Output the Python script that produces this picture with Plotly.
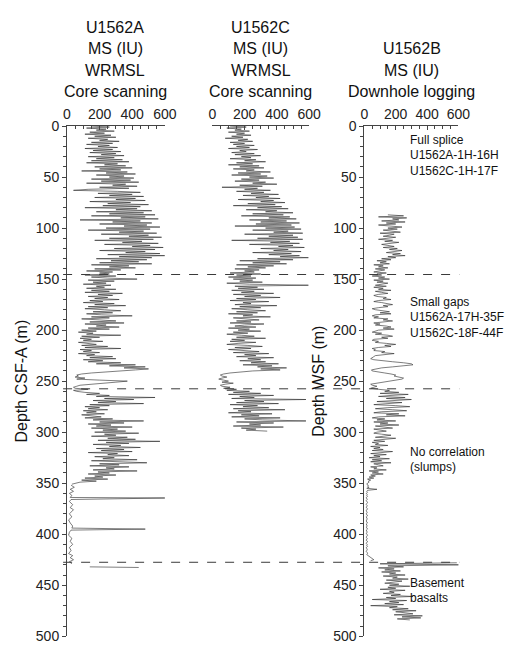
import plotly.graph_objects as go

W, H = 513, 654

# ---- Hole U1562A, WRMSL magnetic susceptibility (IU), 1 m samples from 0 m ----
A_TOP, A_STEP = 0.0, 1.0
A_MS = [
    150, 260, 120, 240, 180, 290, 140, 230, 110, 270,
    170, 300, 130, 250, 200, 320, 150, 280, 120, 260,
    190, 310, 110, 280, 160, 330, 140, 300, 210, 350,
    130, 290, 180, 340, 150, 380, 120, 310, 230, 360,
    170, 400, 200, 330, 90, 370, 240, 420, 180, 350,
    260, 410, 150, 390, 210, 440, 120, 360, 280, 430,
    200, 380, 130, 40, 310, 450, 190, 400, 260, 470,
    170, 420, 300, 480, 140, 390, 250, 500, 220, 450,
    110, 430, 300, 520, 180, 470, 260, 540, 150, 480,
    330, 560, 80, 450, 280, 520, 200, 490, 350, 570,
    240, 510, 130, 470, 320, 550, 210, 500, 380, 580,
    260, 530, 170, 460, 340, 560, 230, 510, 400, 590,
    290, 540, 200, 480, 360, 570, 250, 600, 320, 520,
    180, 490, 270, 440, 200, 520, 150, 380, 260, 420,
    170, 330, 120, 280, 200, 260, 110, 300, 150, 250,
    430, 130, 290, 160, 240, 100, 270, 180, 230, 120,
    300, 150, 260, 110, 340, 190, 280, 130, 250, 170,
    320, 140, 220, 100, 290, 170, 360, 130, 250, 110,
    230, 330, 160, 280, 120, 210, 400, 150, 260, 90,
    200, 300, 140, 350, 110, 240, 180, 320, 130, 260,
    90, 180, 70, 160, 120, 330, 90, 200, 80, 150,
    100, 220, 70, 140, 180, 90, 250, 110, 330, 80,
    150, 100, 200, 70, 170, 120, 280, 140, 300, 100,
    220, 130, 330, 180, 420, 260, 480, 350, 500, 420,
    310, 200, 150, 90, 60, 70, 50, 110, 60, 200,
    370, 300, 230, 130, 80, 60, 40, 50, 130, 40,
    60, 110, 200, 120, 260, 180, 540, 230, 410, 160,
    300, 190, 470, 140, 260, 110, 200, 130, 250, 100,
    180, 120, 230, 90, 150, 210, 110, 280, 160, 470,
    200, 350, 130, 270, 180, 400, 150, 310, 220, 360,
    170, 440, 230, 300, 150, 370, 250, 420, 190, 570,
    240, 380, 160, 330, 260, 450, 180, 350, 210, 400,
    130, 310, 250, 380, 170, 290, 220, 430, 150, 340,
    490, 200, 320, 140, 380, 240, 290, 160, 430, 190,
    260, 130, 300, 170, 220, 110, 250, 90, 180, 80,
    60, 30,
]
# deeper, sparse part of U1562A
A_DEEP_DEPTH = [352, 354, 356, 358, 360, 362, 364, 364.5, 366, 368, 371, 374, 376, 378,
                380, 383, 386, 389, 392, 394, 395, 396, 398, 401, 404, 407, 410, 413,
                416, 419, 421, 423, 425, 427, 429]
A_DEEP_MS = [25, 45, 20, 40, 15, 30, 20, 610, 25, 15, 35, 20, 40, 25,
             15, 30, 10, 20, 35, 30, 480, 25, 15, 10, 30, 20, 35, 15,
             25, 10, 35, 20, 40, 15, 30]
A_PIECE_DEPTH = [432.0, 432.6]
A_PIECE_MS = [140, 440]

# ---- Hole U1562C, WRMSL magnetic susceptibility (IU), 1 m samples from 0 m ----
C_TOP, C_STEP = 0.0, 1.0
C_MS = [
    110, 210, 90, 180, 140, 230, 100, 200, 150, 240,
    120, 190, 80, 220, 160, 250, 110, 200, 130, 260,
    150, 230, 100, 280, 170, 210, 120, 260, 140, 300,
    180, 240, 110, 270, 200, 330, 150, 250, 100, 290,
    170, 320, 130, 260, 210, 360, 160, 300, 120, 340,
    230, 380, 180, 290, 140, 330, 250, 400, 170, 310,
    60, 280, 200, 360, 150, 320, 240, 410, 190, 350,
    270, 420, 160, 380, 300, 450, 220, 390, 130, 430,
    280, 470, 210, 400, 330, 500, 250, 440, 180, 480,
    350, 520, 230, 460, 300, 540, 270, 490, 140, 510,
    330, 550, 250, 470, 380, 560, 200, 500, 350, 530,
    280, 560, 120, 480, 360, 540, 230, 500, 410, 570,
    300, 470, 380, 550, 250, 490, 350, 540, 420, 595,
    280, 500, 170, 420, 250, 460, 150, 380, 220, 330,
    140, 290, 200, 260, 110, 300, 150, 240, 100, 270,
    130, 250, 170, 310, 90, 230, 595, 140, 280, 160,
    320, 120, 260, 180, 380, 130, 300, 200, 420, 150,
    270, 110, 350, 190, 240, 140, 400, 170, 300, 120,
    220, 330, 150, 280, 100, 250, 190, 360, 130, 210,
    290, 150, 240, 110, 320, 200, 140, 270, 100, 230,
    160, 300, 130, 220, 90, 180, 260, 150, 330, 120,
    200, 110, 270, 160, 90, 220, 310, 140, 240, 100,
    180, 290, 130, 350, 200, 270, 150, 380, 220, 300,
    170, 330, 240, 410, 190, 370, 280, 460, 300, 420,
    250, 160, 110, 70, 50, 60, 90, 60, 40, 70,
    100, 60, 130, 80, 50, 60, 110, 70, 150, 90,
    230, 130, 300, 100, 380, 170, 260, 120, 580, 200,
    320, 150, 410, 110, 280, 190, 350, 130, 450, 160,
    240, 100, 370, 180, 290, 120, 420, 200, 310, 580,
    150, 380, 230, 300, 130, 440, 180, 270, 210, 340,
]

# ---- Hole U1562B, downhole MS (IU), 1 m samples from 87 m ----
B_TOP, B_STEP = 87.0, 1.0
B_MS = [
    150, 250, 90, 270, 180, 220, 110, 260, 140, 200,
    90, 180, 240, 150, 210, 120, 170, 230, 100, 190,
    160, 120, 200, 150, 90, 180, 130, 220, 170, 110,
    150, 190, 120, 210, 160, 240, 190, 140, 230, 180,
    260, 150, 200, 110, 170, 80, 140, 100, 160, 60,
    120, 90, 150, 70, 130, 100, 60, 140, 80, 110,
    50, 130, 90, 160, 60, 120, 80, 150, 100, 70,
    140, 60, 120, 90, 170, 70, 110, 150, 90, 60,
    80, 140, 120, 170, 90, 60, 110, 140, 180, 120,
    150, 90, 50, 70, 130, 160, 100, 170, 70, 50,
    90, 60, 150, 120, 180, 130, 60, 100, 70, 140,
    170, 120, 190, 90, 60, 50, 110, 70, 150, 180,
    110, 150, 60, 50, 90, 70, 140, 200, 130, 170,
    90, 50, 70, 60, 130, 110, 190, 140, 70, 60,
    50, 40, 60, 110, 180, 250, 300, 310, 260, 180,
    110, 60, 45, 50, 80, 130, 170, 200, 190, 230,
    250, 240, 200, 160, 100, 60, 40, 50, 80, 60,
    40, 90, 160, 130, 220, 100, 280, 170, 90, 260,
    140, 300, 210, 80, 240, 130, 60, 200, 290, 150,
    70, 180, 270, 110, 60, 220, 140, 260, 90, 50,
    130, 80, 200, 60, 150, 100, 220, 70, 120, 180,
    60, 90, 140, 80, 60, 110, 170, 120, 70, 200,
    100, 60, 130, 50, 90, 70, 150, 40, 100, 60,
    120, 50, 180, 70, 40, 140, 60, 100, 30, 160,
    50, 110, 40, 170, 60, 90, 120, 40, 80, 60,
    140, 30, 90, 50, 120, 40, 70, 30, 60, 20,
    40, 25, 30, 20, 15, 25, 20, 30, 15, 80,
    20, 15, 20, 12, 18, 15, 20, 12, 15, 18,
    12, 15, 20, 15, 12, 18, 15, 12, 20, 15,
    12, 15, 18, 12, 15, 20, 12, 15, 18, 15,
    12, 15, 20, 12, 15, 18, 12, 15, 20, 12,
    15, 18, 12, 15, 20, 15, 12, 18, 15, 12,
    20, 15, 12, 18, 15, 20, 12, 15, 18, 15,
    12, 18, 20, 15, 25, 30, 40, 55, 60, 40,
]
# basement section of U1562B, 1 m samples from 428 m
BB_TOP, BB_STEP = 428.0, 1.0
BB_MS = [
    590, 100, 605, 150, 250, 90, 190, 130, 230, 110,
    200, 160, 260, 120, 210, 180, 280, 140, 240, 170,
    130, 220, 160, 290, 150, 200, 100, 260, 160, 190,
    120, 230, 170, 310, 140, 200, 50, 270, 160, 220,
    130, 250, 40, 210, 160, 280, 180, 330, 200, 260,
    310, 190, 370, 240, 360, 210, 290,
]

# unit boundaries (m)
BOUNDARIES = [145.5, 257.5, 427.5]

# notes in the U1562B panel: (pixel row of first line, lines)
UNIT_NOTES = [
    (135, ["Full splice", "U1562A-1H-16H", "U1562C-1H-17F"]),
    (301, ["Small gaps", "U1562A-17H-35F", "U1562C-18F-44F"]),
    (455, ["No correlation", "(slumps)"]),
    (589, ["Basement", "basalts"]),
]
TITLES = [
    (115, ["U1562A", "MS (IU)", "WRMSL", "Core scanning"]),
    (265, ["U1562C", "MS (IU)", "WRMSL", "Core scanning"]),
    (421, ["U1562B", "MS (IU)", "Downhole logging"]),
]


def depths(top, step, n):
    return [top + i * step for i in range(n)]


FONT = "Liberation Sans, Arial, sans-serif"
LINE = dict(color="#262626", width=0.6)
AX = "#444444"

fig = go.Figure()

a_d = depths(A_TOP, A_STEP, len(A_MS)) + [None] + A_DEEP_DEPTH + [None] + A_PIECE_DEPTH
a_v = A_MS + [None] + A_DEEP_MS + [None] + A_PIECE_MS
fig.add_trace(go.Scatter(x=a_v, y=a_d, mode="lines", line=LINE, xaxis="x", yaxis="y",
                         connectgaps=False, hoverinfo="skip"))

fig.add_trace(go.Scatter(x=C_MS, y=depths(C_TOP, C_STEP, len(C_MS)), mode="lines", line=LINE,
                         xaxis="x2", yaxis="y2", hoverinfo="skip"))

b_d = depths(B_TOP, B_STEP, len(B_MS)) + [None] + depths(BB_TOP, BB_STEP, len(BB_MS))
b_v = B_MS + [None] + BB_MS
fig.add_trace(go.Scatter(x=b_v, y=b_d, mode="lines", line=LINE, xaxis="x3", yaxis="y3",
                         connectgaps=False, hoverinfo="skip"))


def px(x):
    return x / W


def py(y):
    return 1 - y / H


ydom = [py(644), py(121)]


def xaxis(dom, anchor):
    return dict(domain=dom, anchor=anchor, range=[0, 600], side="top",
                tickvals=[0, 200, 400, 600], ticks="inside", ticklen=4, tickcolor=AX,
                minor=dict(dtick=50, ticks="inside", ticklen=3, tickcolor=AX),
                showline=True, linecolor=AX, linewidth=1, showgrid=False, zeroline=False,
                tickfont=dict(size=14, color="#222"), fixedrange=True)


def yaxis(dom, anchor, visible, title):
    d = dict(domain=dom, anchor=anchor, range=[500, 0], showgrid=False, zeroline=False,
             fixedrange=True)
    if visible:
        d.update(dtick=50, ticks="outside", ticklen=4, tickcolor=AX,
                 minor=dict(dtick=10, ticks="outside", ticklen=3, tickcolor=AX),
                 showline=True, linecolor=AX, linewidth=1,
                 tickfont=dict(size=14, color="#222"),
                 title=dict(text=title, font=dict(size=16, color="#111"), standoff=4))
    else:
        d.update(visible=False)
    return d


fig.update_layout(
    width=W, height=H, margin=dict(l=0, r=0, t=0, b=0),
    paper_bgcolor="white", plot_bgcolor="rgba(0,0,0,0)",
    showlegend=False, font=dict(family=FONT, color="#222"),
    xaxis=xaxis([px(65), px(166)], "y"),
    xaxis2=xaxis([px(215), px(315)], "y2"),
    xaxis3=xaxis([px(372), px(469)], "y3"),
    yaxis=yaxis(ydom, "x", True, "Depth CSF-A (m)"),
    yaxis2=yaxis(ydom, "x2", False, ""),
    yaxis3=yaxis(ydom, "x3", True, "Depth WSF (m)"),
)

for dep in BOUNDARIES:
    fig.add_shape(type="line", xref="paper", yref="y", x0=px(61), x1=px(470), y0=dep, y1=dep,
                  line=dict(color="#3a3a3a", width=1, dash="dash"), layer="above")

for cx, lines in TITLES:
    n = len(lines)
    for i, t in enumerate(lines):
        row = 86 - (n - 1 - i) * 22
        fig.add_annotation(text=t, xref="paper", yref="paper", x=px(cx), y=py(row),
                           xanchor="center", yanchor="middle", showarrow=False,
                           font=dict(size=16, color="#111"))

for top, lines in UNIT_NOTES:
    for i, t in enumerate(lines):
        fig.add_annotation(text=t, xref="paper", yref="paper", x=px(417), y=py(top + 16 * i),
                           xanchor="left", yanchor="middle", showarrow=False,
                           font=dict(size=12, color="#111"))

fig.write_html("out.html")
